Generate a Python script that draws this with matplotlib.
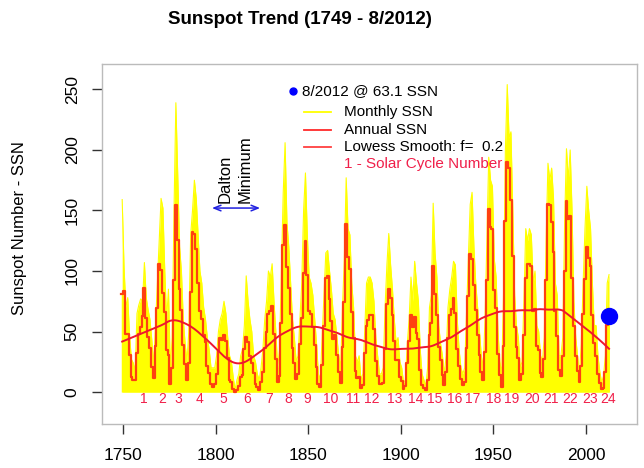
import numpy as np
import matplotlib
matplotlib.use("Agg")
import matplotlib.pyplot as plt
from matplotlib.lines import Line2D

plt.rcParams['font.family'] = ['Liberation Sans', 'DejaVu Sans']

# ---------------- data ----------------
first_year = 1749
annual_ssn = [
    80.9,
    83.4, 47.7, 47.8, 30.7, 12.2, 9.6, 10.2, 32.4, 47.6, 54.0,
    62.9, 85.9, 61.2, 45.1, 36.4, 20.9, 11.4, 37.8, 69.8, 106.1,
    100.8, 81.6, 66.5, 34.8, 30.6, 7.0, 19.8, 92.5, 154.4, 125.9,
    84.8, 68.1, 38.5, 22.8, 10.2, 24.1, 82.9, 132.0, 130.9, 118.1,
    89.9, 66.6, 60.0, 46.9, 41.0, 21.3, 16.0, 6.4, 4.1, 6.8,
    14.5, 34.0, 45.0, 43.1, 47.5, 42.2, 28.1, 10.1, 8.1, 2.5,
    0.0, 1.4, 5.0, 12.2, 13.9, 35.4, 45.8, 41.0, 30.1, 23.9,
    15.6, 6.6, 4.0, 1.8, 8.5, 16.6, 36.3, 49.6, 64.2, 67.0,
    70.9, 47.8, 27.5, 8.5, 13.2, 56.9, 121.5, 138.3, 103.2, 85.7,
    64.6, 36.7, 24.2, 10.7, 15.0, 40.1, 61.5, 98.5, 124.7, 96.3,
    66.6, 64.5, 54.1, 39.0, 20.6, 6.7, 4.3, 22.7, 54.8, 93.8,
    95.8, 77.2, 59.1, 44.0, 47.0, 30.5, 16.3, 7.3, 37.6, 74.0,
    139.0, 111.2, 101.6, 66.2, 44.7, 17.0, 11.3, 12.4, 3.4, 6.0,
    32.3, 54.3, 59.7, 63.7, 63.5, 52.2, 25.4, 13.1, 6.8, 6.3,
    7.1, 35.6, 73.0, 85.1, 78.0, 64.0, 41.8, 26.2, 26.7, 12.1,
    9.5, 2.7, 5.0, 24.4, 42.0, 63.5, 53.8, 62.0, 48.5, 43.9,
    18.6, 5.7, 3.6, 1.4, 9.6, 47.4, 57.1, 103.9, 80.6, 63.6,
    37.6, 26.1, 14.2, 5.8, 16.7, 44.3, 63.9, 69.0, 77.8, 64.9,
    35.7, 21.2, 11.1, 5.7, 8.7, 36.1, 79.7, 114.4, 109.6, 88.8,
    67.8, 47.5, 30.6, 16.3, 9.6, 33.2, 92.6, 151.6, 136.3, 134.7,
    83.9, 69.4, 31.5, 13.9, 4.4, 38.0, 141.7, 190.2, 184.8, 159.0,
    112.3, 53.9, 37.6, 27.9, 10.2, 15.1, 47.0, 93.8, 105.9, 105.5,
    104.5, 66.6, 68.9, 38.0, 34.5, 15.5, 12.6, 27.5, 92.5, 155.4,
    154.6, 140.4, 115.9, 66.6, 45.9, 17.9, 13.4, 29.4, 100.2, 157.6,
    142.6, 145.7, 94.3, 54.6, 29.9, 17.5, 8.6, 21.5, 64.3, 93.3,
    119.6, 111.0, 104.0, 63.7, 40.4, 29.8, 15.2, 7.5, 2.9, 3.1,
    16.5, 55.7, 57.7,
]
# highest monthly SSN within each year (read from the yellow spikes)
monthly_peak_ssn = [
    159,
    103, 70, 78, 46, 27, 24, 17, 65, 72, 77,
    75, 107, 78, 68, 60, 43, 22, 55, 90, 125,
    160, 152, 100, 60, 85, 20, 45, 150, 239, 180,
    120, 100, 60, 40, 25, 50, 130, 150, 175, 160,
    130, 100, 90, 70, 60, 45, 35, 20, 20, 20,
    30, 50, 60, 65, 75, 65, 45, 30, 25, 12,
    2, 10, 15, 30, 35, 55, 96, 75, 60, 50,
    30, 25, 15, 10, 20, 35, 60, 75, 100, 95,
    106, 75, 50, 20, 35, 100, 165, 206, 140, 120,
    90, 60, 45, 25, 30, 60, 90, 150, 181, 130,
    95, 90, 80, 60, 40, 15, 10, 45, 80, 115,
    117, 100, 85, 65, 60, 45, 30, 20, 70, 110,
    177, 135, 130, 90, 70, 30, 25, 30, 10, 15,
    50, 90, 95, 95, 90, 75, 45, 30, 15, 15,
    20, 70, 105, 131, 105, 85, 60, 40, 45, 25,
    20, 8, 10, 40, 60, 95, 75, 108, 90, 75,
    35, 15, 10, 5, 20, 70, 80, 156, 115, 95,
    55, 40, 30, 15, 30, 70, 85, 95, 108, 105,
    60, 35, 20, 15, 20, 65, 110, 155, 165, 120,
    90, 70, 50, 30, 20, 60, 125, 194, 175, 170,
    110, 95, 50, 25, 15, 80, 200, 254, 210, 215,
    150, 80, 55, 45, 20, 25, 75, 135, 125, 135,
    130, 90, 100, 55, 50, 30, 25, 45, 125, 189,
    175, 185, 160, 90, 80, 30, 30, 45, 140, 201,
    175, 200, 150, 75, 45, 30, 15, 40, 90, 135,
    170, 150, 135, 90, 55, 55, 30, 17, 8, 13,
    30, 90, 97,
]
latest_date = 2012.6
latest_ssn = 63.1
cycle_numbers = list(range(1, 25))
cycle_label_years = [1761, 1771, 1780, 1791, 1804, 1817, 1829, 1839, 1849.5,
                     1862, 1874, 1884.5, 1896.5, 1908, 1918.5, 1929, 1939,
                     1950, 1960, 1971, 1981, 1991.5, 2002.5, 2012]
lowess_f = 0.2


def lowess(x, y, f=0.2, iters=3):
    x = np.asarray(x, float)
    y = np.asarray(y, float)
    n = len(x)
    ns = max(2, min(n, int(f * n + 1e-7)))
    rw = np.ones(n)
    ys = np.zeros(n)
    for it in range(iters + 1):
        for i in range(n):
            d = np.abs(x - x[i])
            h = np.sort(d)[ns - 1]
            r = d / h
            w = np.where(r < 1, (1 - r ** 3) ** 3, 0.0) * rw
            sw = w.sum()
            xm = (w * x).sum() / sw
            ym = (w * y).sum() / sw
            den = (w * (x - xm) ** 2).sum()
            b = (w * (x - xm) * (y - ym)).sum() / den if den > 0 else 0.0
            ys[i] = ym + b * (x[i] - xm)
        if it == iters:
            break
        res = y - ys
        cmad = 6 * np.median(np.abs(res))
        u = res / cmad
        rw = np.where(np.abs(u) < 1, (1 - u ** 2) ** 2, 0.0)
    return ys


years = np.arange(first_year, first_year + len(annual_ssn))
annual = np.array(annual_ssn)
monthly_peak = np.array(monthly_peak_ssn)
smooth = lowess(years + 0.5, annual, f=lowess_f)

# ---------------- figure ----------------
W, H = 644, 468
fig = plt.figure(figsize=(W / 100, H / 100), dpi=100)
L, R, T, B = 102, 637, 64, 424
ax = fig.add_axes([L / W, 1 - B / H, (R - L) / W, (B - T) / H])

yellow = '#FFFF00'
annual_col = '#FF4010'
smooth_col = '#EE1530'
cycle_col = '#F0204A'

# monthly envelope: area under the annual steps plus the monthly spikes
yrs_ext = np.append(years, years[-1] + 0.7)
ann_ext = np.append(annual, annual[-1])
ax.fill_between(yrs_ext, 0, ann_ext, step='post', color=yellow, lw=0, zorder=1)
ax.fill_between(years + 0.5, 0, monthly_peak, color=yellow, lw=0, zorder=1)
ax.plot(years + 0.5, monthly_peak, color=yellow, lw=0.8, zorder=1)
ax.plot(years, annual, drawstyle='steps-post', color=annual_col, lw=1.6, zorder=2)
ax.plot(years + 0.5, smooth, color=smooth_col, lw=1.4, zorder=3)
ax.plot([latest_date], [latest_ssn], 'o', color='#0000FF', ms=11.5, zorder=4)

for num, yr in zip(cycle_numbers, cycle_label_years):
    ax.text(yr, -6, str(num), color=cycle_col, fontsize=10, ha='center', va='center')

# Dalton minimum annotation
ax.annotate('', xy=(1798, 152), xytext=(1824, 152),
            arrowprops=dict(arrowstyle='<->,head_length=0.5,head_width=0.2',
                            color='#2020E0', lw=1.1, shrinkA=0, shrinkB=0))
ax.text(1810.5, 156, 'Dalton\nMinimum', rotation=90, ha='center', va='bottom',
        multialignment='left', fontsize=12, linespacing=1.45)

ax.set_xlim(1738.6, 2027.6)
ax.set_ylim(-26.4, 271)
ax.set_xticks([1750, 1800, 1850, 1900, 1950, 2000])
ax.set_yticks([0, 50, 100, 150, 200, 250])
ax.tick_params(axis='both', direction='out', length=7, width=1, color='#333333',
               labelsize=12.5)
ax.tick_params(axis='x', pad=10)
ax.tick_params(axis='y', pad=9)
for lab in ax.get_yticklabels():
    lab.set_rotation(90)
    lab.set_va('center')
for sp in ax.spines.values():
    sp.set_color('#BBBBBB')
    sp.set_linewidth(1)

ax.set_ylabel('Sunspot Number - SSN', fontsize=12)
ax.yaxis.set_label_coords(-(L - 27) / (R - L), (B - 228) / (B - T))

fig.text(300 / W, 1 - 20 / H, 'Sunspot Trend (1749 - 8/2012)', fontsize=13.5,
         fontweight='bold', ha='center', va='center')


# ---------------- legend (manual, axes fraction) ----------------
def af(px, py):
    return ((px - L) / (R - L), (B - py) / (B - T))

ax.plot(*af(293, 91), 'o', color='#0000FF', ms=5, transform=ax.transAxes, clip_on=False)
ax.text(*af(302, 91), '8/2012 @ 63.1 SSN', fontsize=11, va='center', transform=ax.transAxes)
legend_rows = [('Monthly SSN', yellow, 112), ('Annual SSN', '#FF2A2A', 130),
               ('Lowess Smooth: f=  0.2', '#FF4040', 147)]
for label, col, py in legend_rows:
    x0, y0 = af(304, py)
    x1, _ = af(331, py)
    ax.add_line(Line2D([x0, x1], [y0, y0], color=col, lw=1.3, transform=ax.transAxes))
    ax.text(*af(344, py), label, fontsize=11, va='center', transform=ax.transAxes)
ax.text(*af(344, 164), '1 - Solar Cycle Number', fontsize=11, va='center',
        color=cycle_col, transform=ax.transAxes)

fig.savefig('out.png', dpi=100)
